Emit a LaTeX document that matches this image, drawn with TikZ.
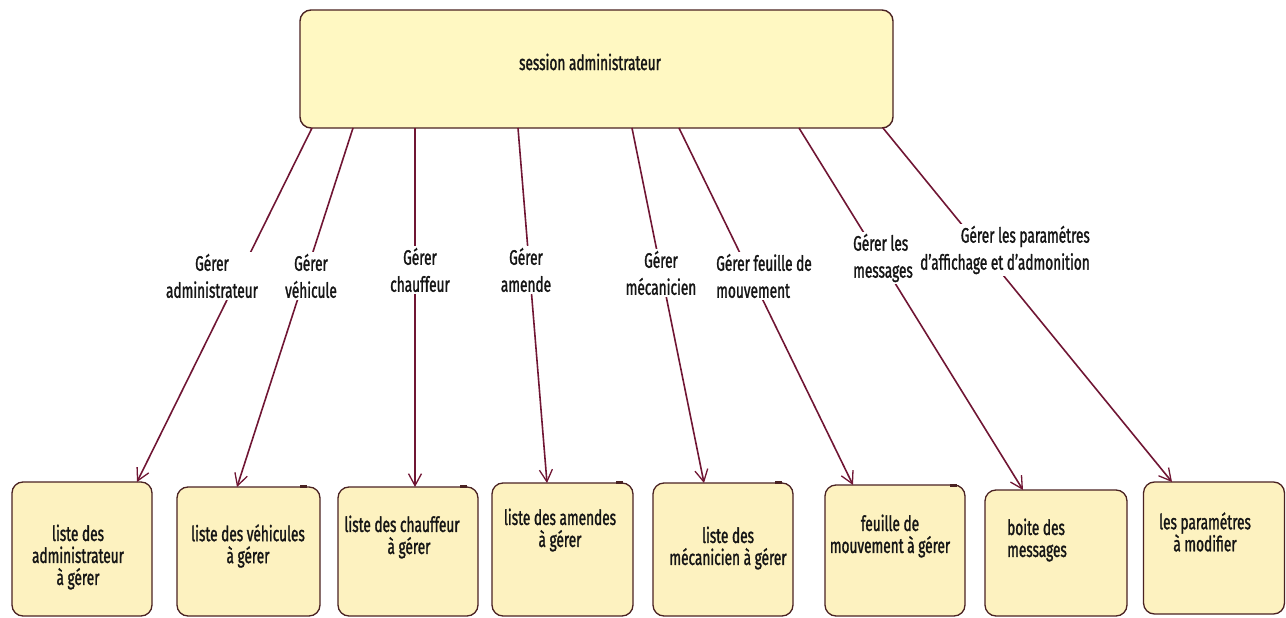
\documentclass[tikz,border=0pt]{standalone}
\usepackage{fontspec}
\setmainfont{Fira Sans}[FakeStretch=0.65, FakeBold=1.3]
\usetikzlibrary{arrows.meta}
\definecolor{boxfill}{HTML}{FFF8C2}
\definecolor{lowfill}{HTML}{FDF2C0}
\definecolor{boxline}{HTML}{4A2222}
\definecolor{linkcol}{HTML}{701634}
\definecolor{txt}{HTML}{151515}
\tikzset{
  topbox/.style={draw=boxline, fill=boxfill, line width=1.4pt, rounded corners=11pt, inner sep=0pt},
  lowbox/.style={draw=boxline, fill=lowfill, line width=1.3pt, rounded corners=11pt, inner sep=0pt},
  boxtext/.style={text=txt, font=\fontsize{21}{22}\selectfont, align=center, inner sep=0pt},
  linklabel/.style={text=txt, font=\fontsize{21}{27}\selectfont, fill=white, inner sep=2pt},
  link/.style={draw=linkcol, line width=1.6pt, -{Straight Barb[length=12pt,width=13pt,line width=1.3pt]}},
  tab/.style={fill=boxline, draw=none, minimum width=7pt, minimum height=3pt, inner sep=0pt},
}
\begin{document}
\begin{tikzpicture}[x=1pt,y=-1pt]
\useasboundingbox (0,0) rectangle (1286,618);
% top box
\node[topbox, minimum width=593pt, minimum height=118pt] (top) at (596.5,69) {};
\node[boxtext] (ttop) at (590,62) {session administrateur};
% bottom boxes
\node[lowbox, minimum width=140pt, minimum height=134pt] (b1) at (82,549) {};
\node[lowbox, minimum width=143pt, minimum height=129pt] (b2) at (248.5,551.5) {};
\node[lowbox, minimum width=140pt, minimum height=129pt] (b3) at (408,551.5) {};
\node[lowbox, minimum width=141pt, minimum height=133pt] (b4) at (562.5,549.5) {};
\node[lowbox, minimum width=140pt, minimum height=133pt] (b5) at (723,549.5) {};
\node[lowbox, minimum width=140pt, minimum height=131pt] (b6) at (895,550.5) {};
\node[lowbox, minimum width=142pt, minimum height=126pt] (b7) at (1056,553) {};
\node[lowbox, minimum width=141pt, minimum height=132pt] (b8) at (1214,548) {};
% small tabs
\node[tab] (k2) at (303,486) {};
\node[tab] (k3) at (463,486) {};
\node[tab] (k4) at (619,482.5) {};
\node[tab] (k5) at (778,482.5) {};
\node[tab] (k6) at (953,485) {};
% box texts
\node[boxtext] (t1) at (78,557) {liste des\\administrateur\\à gérer};
\node[boxtext] (t2) at (248,546) {liste des véhicules\\à gérer};
\node[boxtext] (t3) at (402,537) {liste des chauffeur\\\hspace*{14pt}à gérer};
\node[boxtext] (t4) at (560,530) {liste des amendes\\à gérer};
\node[boxtext] (t5) at (728,548) {liste des\\mécanicien à gérer};
\node[boxtext] (t6) at (890,536) {feuille de\\mouvement à gérer};
\node[boxtext, anchor=west, align=left] (t7) at (1007,540) {boite des\\messages};
\node[boxtext] (t8) at (1205,532) {les paramétres\\à modifier};
% connector points
\coordinate (s1) at (312,128);
\coordinate (s2) at (353,128);
\coordinate (s3) at (415,128);
\coordinate (s4) at (518,128);
\coordinate (s5) at (632,128);
\coordinate (s6) at (679,128);
\coordinate (s7) at (799,128);
\coordinate (s8) at (883,128);
\coordinate (e1) at (137,482);
\coordinate (e2) at (237,487);
\coordinate (e3) at (415,487);
\coordinate (e4) at (547,483);
\coordinate (e5) at (704,483);
\coordinate (e6) at (853,485);
\coordinate (e7) at (1023,490);
\coordinate (e8) at (1172,482);
\draw[link] (s1) -- (e1);
\draw[link] (s2) -- (e2);
\draw[link] (s3) -- (e3);
\draw[link] (s4) -- (e4);
\draw[link] (s5) -- (e5);
\draw[link] (s6) -- (e6);
\draw[link] (s7) -- (e7);
\draw[link] (s8) -- (e8);
% labels
\node[linklabel, align=center] (l1) at (212,276) {Gérer\\administrateur};
\node[linklabel, align=center] (l2) at (311,276) {Gérer\\véhicule};
\node[linklabel, align=center] (l3) at (420,270) {Gérer\\chauffeur};
\node[linklabel, align=center] (l4) at (526,270) {Gérer\\amende};
\node[linklabel, align=center] (l5) at (661,273) {Gérer\\mécanicien};
\node[linklabel, align=left] (l6) at (764,276) {Gérer feuille de\\mouvement};
\node[linklabel, align=left] (l7) at (883,258) {Gérer les\\messages};
\node[linklabel, align=right] (l8) at (1005,250) {Gérer les paramétres\\d'affichage et d'admonition};
\end{tikzpicture}
\end{document}
